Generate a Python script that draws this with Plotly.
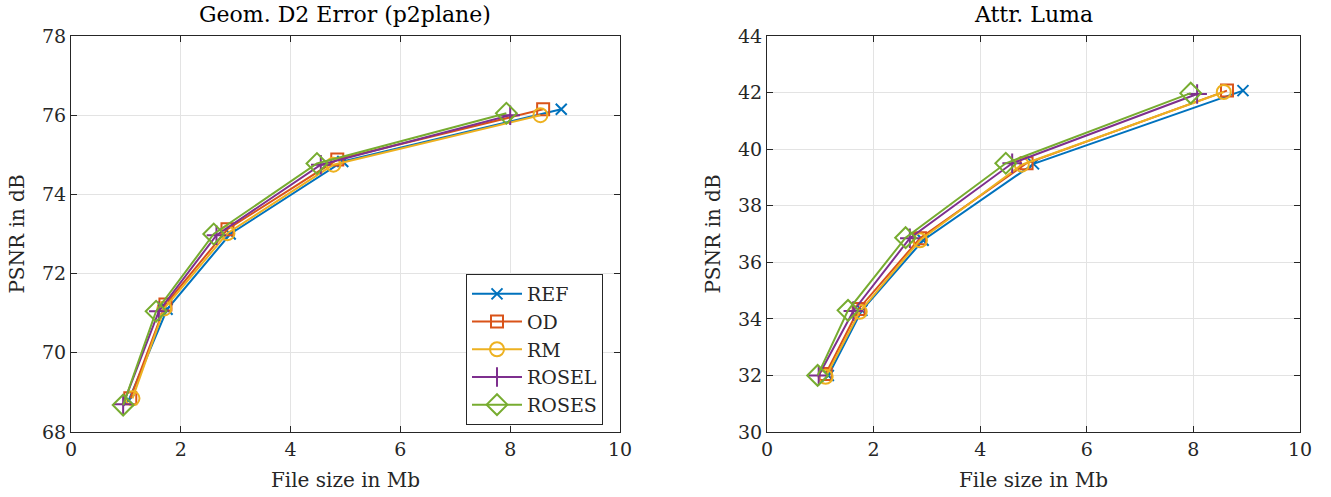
import plotly.graph_objects as go

series_names = ["REF", "OD", "RM", "ROSEL", "ROSES"]
colors = ["#0072BD", "#D95319", "#EDB120", "#7E2F8E", "#77AC30"]
symbols = ["x-thin-open", "square-open", "circle-open", "cross-thin-open", "diamond-open"]
marker_sizes = [11, 12, 14, 14, 16]

# Left chart: Geom. D2 Error (p2plane)
geom_x = {
    "REF":   [1.05, 1.75, 2.90, 4.95, 8.93],
    "OD":    [1.08, 1.72, 2.85, 4.85, 8.60],
    "RM":    [1.12, 1.70, 2.85, 4.78, 8.55],
    "ROSEL": [0.95, 1.60, 2.65, 4.55, 8.00],
    "ROSES": [0.95, 1.55, 2.60, 4.48, 7.93],
}
geom_y = {
    "REF":   [68.80, 71.10, 73.00, 74.83, 76.15],
    "OD":    [68.85, 71.22, 73.12, 74.88, 76.15],
    "RM":    [68.85, 71.12, 73.02, 74.75, 76.00],
    "ROSEL": [68.70, 71.05, 72.97, 74.75, 76.00],
    "ROSES": [68.68, 71.05, 73.00, 74.78, 76.05],
}

# Right chart: Attr. Luma
luma_x = {
    "REF":   [1.15, 1.78, 2.93, 5.00, 8.93],
    "OD":    [1.10, 1.72, 2.87, 4.87, 8.63],
    "RM":    [1.10, 1.74, 2.87, 4.78, 8.57],
    "ROSEL": [0.97, 1.62, 2.68, 4.60, 8.07],
    "ROSES": [0.95, 1.52, 2.60, 4.48, 7.95],
}
luma_y = {
    "REF":   [32.00, 34.30, 36.78, 39.48, 42.07],
    "OD":    [32.05, 34.35, 36.85, 39.50, 42.07],
    "RM":    [31.95, 34.25, 36.78, 39.45, 42.02],
    "ROSEL": [32.00, 34.28, 36.85, 39.50, 41.95],
    "ROSES": [32.00, 34.30, 36.87, 39.50, 41.98],
}

x_ticks = [0, 2, 4, 6, 8, 10]
geom_ticks = [68, 70, 72, 74, 76, 78]
luma_ticks = [30, 32, 34, 36, 38, 40, 42, 44]

FONT = "DejaVu Serif"
W, H = 1331, 497

def px_x(p):
    return p / W

def px_y(p):
    return 1 - p / H

fig = go.Figure()

for i, name in enumerate(series_names):
    fig.add_trace(go.Scatter(
        x=geom_x[name], y=geom_y[name], name=name, mode="lines+markers",
        line=dict(color=colors[i], width=2),
        marker=dict(symbol=symbols[i], size=marker_sizes[i], color=colors[i],
                    line=dict(width=2, color=colors[i])),
        xaxis="x", yaxis="y", showlegend=True, legendgroup=name))
for i, name in enumerate(series_names):
    fig.add_trace(go.Scatter(
        x=luma_x[name], y=luma_y[name], name=name, mode="lines+markers",
        line=dict(color=colors[i], width=2),
        marker=dict(symbol=symbols[i], size=marker_sizes[i], color=colors[i],
                    line=dict(width=2, color=colors[i])),
        xaxis="x2", yaxis="y2", showlegend=False, legendgroup=name))

axis_common = dict(
    showline=True, linecolor="#262626", linewidth=1, mirror="ticks",
    ticks="inside", ticklen=6, tickcolor="#262626",
    showgrid=True, gridcolor="#e3e3e3", gridwidth=1, zeroline=False,
    tickfont=dict(family=FONT, size=19, color="#262626"),
    automargin=False,
)
title_font = dict(family=FONT, size=20, color="#262626")

ydom = [px_y(432), px_y(36)]
fig.update_layout(
    width=W, height=H,
    margin=dict(l=0, r=0, t=0, b=0),
    paper_bgcolor="white", plot_bgcolor="white",
    font=dict(family=FONT, color="#262626"),
    xaxis=dict(domain=[px_x(71), px_x(620)], range=[0, 10], tickvals=x_ticks,
               title=dict(text="File size in Mb", font=title_font, standoff=14),
               anchor="y", **axis_common),
    yaxis=dict(domain=ydom, range=[68, 78], tickvals=geom_ticks,
               title=dict(text="PSNR in dB", font=title_font, standoff=12),
               anchor="x", **axis_common),
    xaxis2=dict(domain=[px_x(767), px_x(1300)], range=[0, 10], tickvals=x_ticks,
                title=dict(text="File size in Mb", font=title_font, standoff=14),
                anchor="y2", **axis_common),
    yaxis2=dict(domain=ydom, range=[30, 44], tickvals=luma_ticks,
                title=dict(text="PSNR in dB", font=title_font, standoff=12),
                anchor="x2", **axis_common),
    legend=dict(x=px_x(603), y=px_y(425), xanchor="right", yanchor="bottom",
                bgcolor="white", bordercolor="#262626", borderwidth=1,
                font=dict(family=FONT, size=19, color="#262626"),
                tracegroupgap=0, itemwidth=50),
    annotations=[
        dict(text="Geom. D2 Error (p2plane)", x=px_x((71 + 620) / 2), y=px_y(15),
             xref="paper", yref="paper", showarrow=False, xanchor="center", yanchor="middle",
             font=dict(family=FONT, size=22, color="black")),
        dict(text="Attr. Luma", x=px_x((767 + 1300) / 2), y=px_y(15),
             xref="paper", yref="paper", showarrow=False, xanchor="center", yanchor="middle",
             font=dict(family=FONT, size=22, color="black")),
    ],
)

fig.write_html("out.html", config={"displayModeBar": False},
               post_script="document.body.style.margin='0px';")
